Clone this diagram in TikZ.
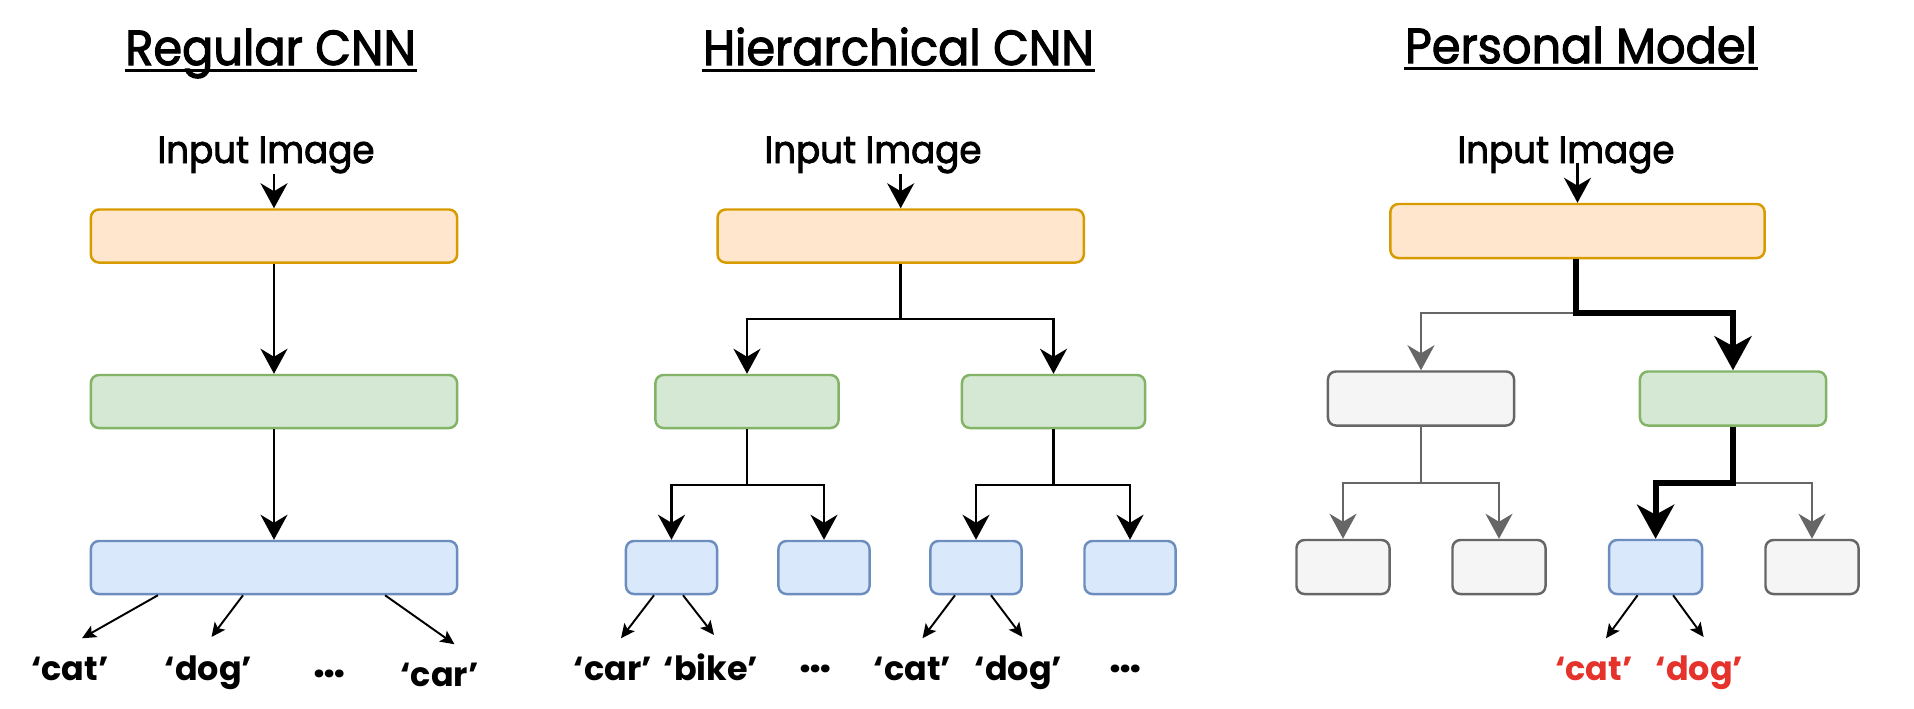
\documentclass[tikz,border=0pt]{standalone}
\usepackage{fontspec}
\setmainfont{Poppins}
\newfontfamily\hdfont[FakeStretch=0.94, FakeBold=2.2]{Poppins}
\usetikzlibrary{arrows.meta, positioning}
\definecolor{orfill}{HTML}{FFE6CC}
\definecolor{ordraw}{HTML}{D79B00}
\definecolor{grfill}{HTML}{D5E8D4}
\definecolor{grdraw}{HTML}{82B366}
\definecolor{blfill}{HTML}{DAE8FC}
\definecolor{bldraw}{HTML}{6C8EBF}
\definecolor{gyfill}{HTML}{F5F5F5}
\definecolor{gydraw}{HTML}{666666}
\definecolor{redtxt}{HTML}{E5322B}

\begin{document}
\begin{tikzpicture}[x=0.01cm, y=-0.01cm,
    every node/.style={inner sep=0pt},
    blk/.style={draw, rectangle, rounded corners=0.8mm, line width=0.7pt, minimum height=0.53cm},
    wide/.style={blk, minimum width=3.66cm},
    mid/.style={blk, minimum width=1.83cm},
    leaf/.style={blk, minimum width=0.91cm},
    orng/.style={fill=orfill, draw=ordraw},
    grn/.style={fill=grfill, draw=grdraw},
    blu/.style={fill=blfill, draw=bldraw},
    gry/.style={fill=gyfill, draw=gydraw},
    ttl/.style={font=\hdfont\fontsize{14}{16}\selectfont, anchor=base},
    inp/.style={font=\hdfont\fontsize{10.8}{12}\selectfont, anchor=base},
    lab/.style={font=\fontsize{9.5}{11}\selectfont\bfseries, anchor=base, inner sep=5pt},
    dots/.style={font=\fontsize{12}{13}\selectfont\bfseries, anchor=base},
    arr/.style={-{Stealth[length=0.25cm, width=0.27cm, inset=0.08cm]}, line width=0.7pt},
    garr/.style={arr, draw=gydraw},
    tarr/.style={-{Stealth[length=0.34cm, width=0.37cm, inset=0.1cm]}, line width=1.7pt},
    sarr/.style={-{Stealth[length=0.14cm, width=0.13cm, inset=0.03cm]}, line width=0.55pt},
    uline/.style={line width=1pt}]
    \useasboundingbox (0,0) rectangle (1914,708);

    % titles
    \node[ttl] (t1) at (270.7,65) {Regular CNN};
    \node[ttl] (t2) at (898.5,65) {Hierarchical CNN};
    \node[ttl] (t3) at (1581,63) {Personal Model};
    \foreach \t in {t1,t2,t3}
        \draw[uline] ([yshift=-0.55mm]\t.base west) -- ([yshift=-0.55mm]\t.base east);

    % regular CNN
    \node[inp] (in1) at (266,163) {Input Image};
    \node[wide, orng] (o1) at (274,236) {};
    \node[wide, grn] (g1) at (274,401.5) {};
    \node[wide, blu] (b1) at (274,567.5) {};
    \draw[arr] (o1.north |- in1.south) -- (o1.north);
    \draw[arr] (o1) -- (g1);
    \draw[arr] (g1) -- (b1);
    \node[lab] (c1a) at (70,680) {‘cat’};
    \node[lab] (c1b) at (208.5,680) {‘dog’};
    \node[dots] (d1) at (330,677) {…};
    \node[lab] (c1c) at (439.5,686) {‘car’};
    \draw[sarr] ([xshift=-1.16cm]b1.south) -- ([xshift=0.12cm]c1a.north);
    \draw[sarr] ([xshift=-0.31cm]b1.south) -- ([xshift=0.03cm]c1b.north);
    \draw[sarr] ([xshift=1.11cm]b1.south) -- ([xshift=0.15cm]c1c.north);

    % hierarchical CNN
    \node[inp] (in2) at (873,163) {Input Image};
    \node[wide, orng] (o2) at (900.7,236) {};
    \node[mid, grn] (g2a) at (747,401.5) {};
    \node[mid, grn] (g2b) at (1053.5,401.5) {};
    \node[leaf, blu] (b2a) at (671.5,567.5) {};
    \node[leaf, blu] (b2b) at (824,567.5) {};
    \node[leaf, blu] (b2c) at (976,567.5) {};
    \node[leaf, blu] (b2d) at (1130,567.5) {};
    \coordinate (j2) at (900.7,319);
    \coordinate (k2a) at (747,485);
    \coordinate (k2b) at (1053.5,485);
    \draw[arr] (o2.north |- in2.south) -- (o2.north);
    \draw[arr] (o2.south) -- (j2) -| (g2a.north);
    \draw[arr] (j2) -| (g2b.north);
    \draw[arr] (g2a.south) -- (k2a) -| (b2a.north);
    \draw[arr] (k2a) -| (b2b.north);
    \draw[arr] (g2b.south) -- (k2b) -| (b2c.north);
    \draw[arr] (k2b) -| (b2d.north);
    \node[lab] (c2a) at (613,680) {‘car’};
    \node[lab] (c2b) at (711,680) {‘bike’};
    \node[dots] (d2a) at (816,672) {…};
    \node[lab] (c2c) at (912.5,680) {‘cat’};
    \node[lab] (c2d) at (1018.5,680) {‘dog’};
    \node[dots] (d2b) at (1126,672) {…};
    \draw[sarr] ([xshift=-0.175cm]b2a.south) -- ([xshift=0.08cm]c2a.north);
    \draw[sarr] ([xshift=0.115cm]b2a.south) -- ([xshift=0.03cm]c2b.north);
    \draw[sarr] ([xshift=-0.21cm]b2c.south) -- ([xshift=0.1cm]c2c.north);
    \draw[sarr] ([xshift=0.15cm]b2c.south) -- ([xshift=0.04cm]c2d.north);

    % personal model
    \node[inp] (in3) at (1566,163) {Input Image};
    \node[wide, orng, minimum width=3.74cm, minimum height=0.54cm] (o3) at (1577.5,231) {};
    \node[mid, gry, minimum width=1.86cm, minimum height=0.54cm] (g3a) at (1421,398.5) {};
    \node[mid, grn, minimum width=1.86cm, minimum height=0.54cm] (g3b) at (1733,398.5) {};
    \node[leaf, gry, minimum width=0.93cm, minimum height=0.54cm] (b3a) at (1343,567) {};
    \node[leaf, gry, minimum width=0.93cm, minimum height=0.54cm] (b3b) at (1499,567) {};
    \node[leaf, blu, minimum width=0.93cm, minimum height=0.54cm] (b3c) at (1655.6,567) {};
    \node[leaf, gry, minimum width=0.93cm, minimum height=0.54cm] (b3d) at (1812,567) {};
    \coordinate (j3) at (1576,313);
    \coordinate (k3a) at (1421,483);
    \coordinate (k3b) at (1733,483);
    \draw[arr] (o3.north |- in3.base) -- (o3.north);
    \draw[garr] (j3) -| (g3a.north);
    \draw[garr] (g3a.south) -- (k3a) -| (b3a.north);
    \draw[garr] (k3a) -| (b3b.north);
    \draw[garr] (k3b) -| (b3d.north);
    \draw[tarr] (o3.south -| j3) -- (j3) -| (g3b.north);
    \draw[tarr] (g3b.south) -- (k3b) -| (b3c.north);
    \node[lab, text=redtxt] (c3a) at (1594,680) {‘cat’};
    \node[lab, text=redtxt] (c3b) at (1699.6,680) {‘dog’};
    \draw[sarr] ([xshift=-0.18cm]b3c.south) -- ([xshift=0.12cm]c3a.north);
    \draw[sarr] ([xshift=0.175cm]b3c.south) -- ([xshift=0.04cm]c3b.north);
\end{tikzpicture}
\end{document}
